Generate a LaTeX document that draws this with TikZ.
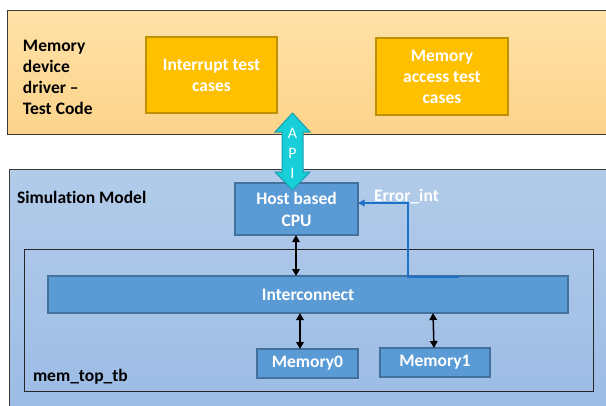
\documentclass[tikz,border=0pt]{standalone}
\usepackage{fontspec}
\setmainfont{Carlito}[Ligatures=NoCommon]
\usetikzlibrary{arrows.meta}
\definecolor{orbgtop}{HTML}{FFE2A8}
\definecolor{orbgbot}{HTML}{FCD38A}
\definecolor{orbox}{HTML}{FFC000}
\definecolor{orboxline}{HTML}{BF9000}
\definecolor{blbgtop}{HTML}{B2CBE9}
\definecolor{blbgbot}{HTML}{9CBCE5}
\definecolor{blbox}{HTML}{5B9BD5}
\definecolor{blboxline}{HTML}{41719C}
\definecolor{apifill}{HTML}{17CFD9}
\definecolor{apiline}{HTML}{1A9FAE}
\definecolor{errblue}{HTML}{1F70C8}
\definecolor{framec}{HTML}{3A3A3A}
\tikzset{
  bx/.style={rectangle, inner sep=0pt, outer sep=0pt, align=center},
  orbgbox/.style={bx, draw=framec, line width=1pt, top color=orbgtop, bottom color=orbgbot},
  blbgbox/.style={bx, draw=framec, line width=1pt, top color=blbgtop, bottom color=blbgbot},
  framebox/.style={bx, draw=black!85, line width=0.9pt},
  obox/.style={bx, fill=orbox, draw=orboxline, line width=1.6pt, text=white, font=\fontsize{17.5}{21}\selectfont\bfseries},
  bbox/.style={bx, fill=blbox, draw=blboxline, line width=1.4pt, text=white, font=\fontsize{17.5}{22}\selectfont\bfseries},
  lbl/.style={inner sep=0pt, outer sep=0pt, align=left, font=\fontsize{17.5}{21}\selectfont\bfseries},
  dbl/.style={black, line width=1.5pt, {Triangle[width=7.5pt,length=7pt]}-{Triangle[width=7.5pt,length=7pt]}},
}
\begin{document}
\begin{tikzpicture}[x=1pt,y=-1pt]
\useasboundingbox (0,0) rectangle (606,405);
\clip (0,0) rectangle (606,405);
% backgrounds
\node[orbgbox, minimum width=605pt, minimum height=124pt] (orbg) at (309.5,72) {};
\node[blbgbox, minimum width=603pt, minimum height=243pt] (simbg) at (310.5,290.5) {};
\node[framebox, minimum width=569pt, minimum height=142pt] (memtop) at (308.5,320) {};
% labels
\node[lbl, anchor=west] (drv) at (23,77) {Memory\\device\\driver –\\Test Code};
\node[lbl, anchor=west] (sim) at (17,197) {Simulation Model};
\node[lbl, anchor=west] (mtt) at (33,377) {mem\_top\_tb};
% orange boxes
\node[obox, minimum width=131pt, minimum height=76pt] (irq) at (211.5,75) {Interrupt test\\cases};
\node[obox, minimum width=132pt, minimum height=77pt] (mac) at (442,76.5) {Memory\\access test\\cases};
% blue boxes
\node[bbox, minimum width=123pt, minimum height=52pt] (cpu) at (296.5,209) {Host based\\CPU};
\node[bbox, minimum width=520pt, minimum height=37pt] (ic) at (308,294.5) {Interconnect};
\node[bbox, minimum width=101pt, minimum height=29pt] (m0) at (307.5,363.5) {Memory0};
\node[bbox, minimum width=110pt, minimum height=29pt] (m1) at (435,362.5) {Memory1};
% API arrow
\draw[fill=apifill, draw=apiline, line width=1pt, line join=miter]
  (292.5,113) -- (310,132) -- (303,132) -- (303,172) -- (310,172) -- (292.5,190)
  -- (275,172) -- (282,172) -- (282,132) -- (275,132) -- cycle;
\node[inner sep=0pt, align=center, text=white, font=\fontsize{16}{20}\selectfont] (api) at (292.5,153) {A\\P\\I};
% connectors
\draw[dbl] ([xshift=-0.5pt]cpu.south) -- ([xshift=-0.5pt]cpu.south |- ic.north);
\draw[dbl] ([xshift=-7.5pt]m0.north) -- ([xshift=-7.5pt]m0.north |- ic.south);
\draw[dbl] ([xshift=-1pt]m1.north) -- ([xshift=-2pt]m1.north |- ic.south);
% error interrupt
\coordinate (e0) at (459,277);
\coordinate (e1) at (408,277);
\draw[errblue, line width=1.3pt, -{Triangle[width=6.5pt,length=6.5pt]}] (e0) -- (e1) |- ([yshift=6pt]cpu.east);
\node[inner sep=0pt, text=white, font=\fontsize{17.5}{20}\selectfont\bfseries] (err) at (406.5,197) {Error\_int};
\end{tikzpicture}
\end{document}
